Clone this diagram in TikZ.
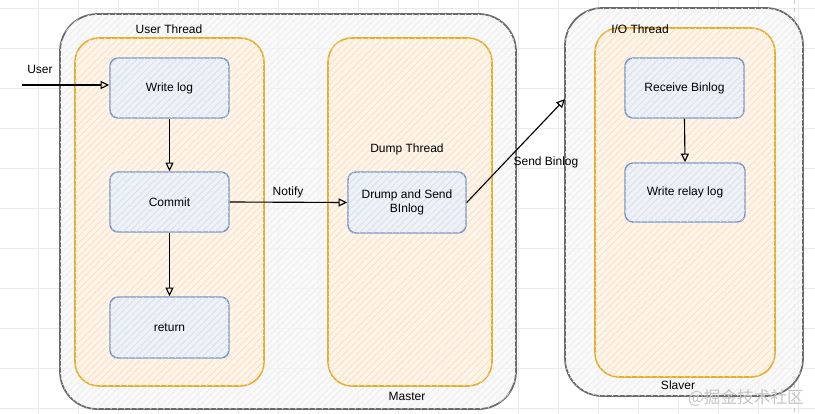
\documentclass[tikz,border=0pt]{standalone}
\usepackage{fontspec}
\setmainfont{Liberation Sans}
\newfontfamily\cjk{Noto Sans CJK SC}
\usetikzlibrary{fit,arrows.meta,patterns.meta}
\definecolor{gridc}{HTML}{EAEAEA}
\definecolor{graystroke}{HTML}{6A6A6A}
\definecolor{grayfill}{HTML}{F8F8F8}
\definecolor{grayhatch}{HTML}{EBEBEB}
\definecolor{orangestroke}{HTML}{E5B030}
\definecolor{orangefill}{HTML}{FFF4E8}
\definecolor{orangehatch}{HTML}{F9DDBC}
\definecolor{bluestroke}{HTML}{7897C6}
\definecolor{bluefill}{HTML}{EEF1F6}
\definecolor{bluehatch}{HTML}{D6DCE8}
\definecolor{wmark}{HTML}{C4C4C4}
\tikzset{
  outerbox/.style={draw=graystroke, line width=1.3pt, rounded corners=28pt, fill=grayfill, fill opacity=0.75, text opacity=1, inner sep=0pt,
    postaction={pattern={Lines[angle=45,distance=3.5pt,line width=0.5pt]}, pattern color=grayhatch}},
  threadbox/.style={draw=orangestroke, line width=1.2pt, rounded corners=18pt, fill=orangefill, fill opacity=0.85, text opacity=1, inner sep=0pt,
    postaction={pattern={Lines[angle=45,distance=3.5pt,line width=0.5pt]}, pattern color=orangehatch}},
  stepbox/.style={draw=bluestroke, line width=1.1pt, rounded corners=6pt, fill=bluefill, text opacity=1, inner sep=0pt, align=center,
    postaction={pattern={Lines[angle=45,distance=3.5pt,line width=0.5pt]}, pattern color=bluehatch}},
  lbl/.style={inner sep=1pt, text=black},
  conn/.style={draw=black, line width=0.85pt, -{Triangle[open,length=6.5pt,width=6pt]}},
}
\begin{document}
\begin{tikzpicture}[x=0.75pt,y=-0.75pt, font=\fontsize{9}{10.5}\selectfont]
\useasboundingbox (0,0) rectangle (815,414);
\fill[white] (0,0) rectangle (815,414);
% grid
\foreach \gx in {38,78,...,798} \draw[gridc, line width=0.5pt] (\gx,0) -- (\gx,414);
\foreach \gy in {8,48,...,408} \draw[gridc, line width=0.5pt] (0,\gy) -- (815,\gy);
\draw[gray!45, dashed, line width=0.5pt] (794,0) -- (794,414);

% containers
\node[outerbox, fit={(60,14) (516,409)}] (master) {};
\node[outerbox, fit={(565,8) (803,396)}] (slave) {};
\node[threadbox, fit={(75,38) (264,386)}] (userthr) {};
\node[threadbox, fit={(328,38) (492,386)}] (dumpthr) {};
\node[threadbox, fit={(595,28) (775,377)}] (iothr) {};

% steps
\node[stepbox, fit={(110,58) (229,118)}] (write) {};
\node at (write.center) {Write log};
\node[stepbox, fit={(110,172) (229,232)}] (commit) {};
\node at (commit.center) {Commit};
\node[stepbox, fit={(110,297) (229,358)}] (ret) {};
\node at (ret.center) {return};
\node[stepbox, fit={(348,172) (466,233)}] (drump) {};
\node[align=center] at (drump.center) {Drump and Send\\BInlog};
\node[stepbox, fit={(625,58) (744,118)}] (recv) {};
\node at (recv.center) {Receive Binlog};
\node[stepbox, fit={(625,163) (745,222)}] (relay) {};
\node at (relay.center) {Write relay log};

% labels
\node[lbl] (lut) at (169,29) {User Thread};
\node[lbl] (ldt) at (407,149) {Dump Thread};
\node[lbl] (lio) at (640,29) {I/O Thread};
\node[lbl] (lmaster) at (407,396) {Master};
\node[lbl] (lslave) at (678,385) {Slaver};
\node[text=wmark, inner sep=0pt, font=\cjk\fontsize{12.5}{14}\selectfont] (wm) at (746,398) {@掘金技术社区};
\node[lbl] (luser) at (40,69) {User};
\node[lbl] (lnotify) at (288,192) {Notify};
\node[lbl] (lsend) at (546,162) {Send Binlog};

% connectors
\coordinate (userstart) at (22,85);
\coordinate (sendtip) at (565,99);
\draw[conn] (userstart) -- (userstart -| write.west);
\draw[conn] (write.south) -- (commit.north);
\draw[conn] (commit.south) -- (ret.north);
\draw[conn] (commit.east) -- (drump.west);
\draw[conn] (drump.east) -- (sendtip);
\draw[conn] (recv.south) -- (relay.north);
\end{tikzpicture}
\end{document}
